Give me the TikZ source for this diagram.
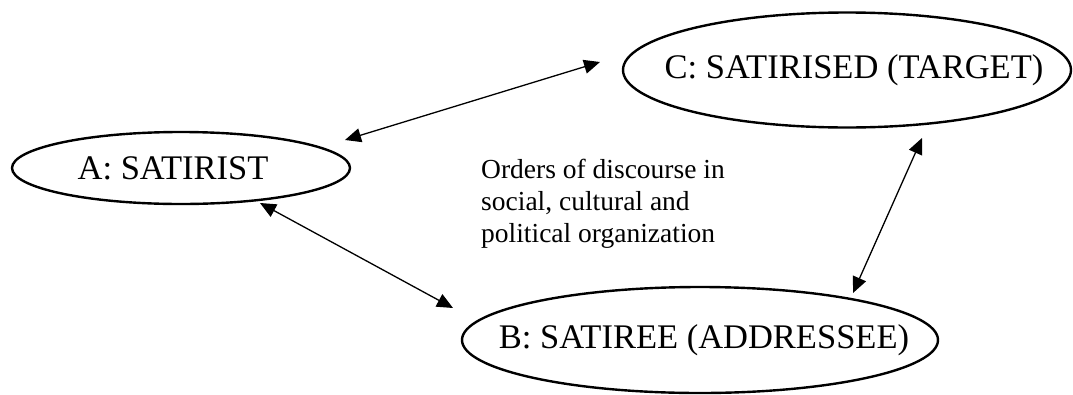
\documentclass[tikz,border=0pt]{standalone}
\usepackage{fontspec}
\setmainfont{Liberation Serif}
\usetikzlibrary{shapes.geometric,arrows.meta,calc}
\tikzset{
  party/.style={ellipse, draw, line width=2.4pt, inner sep=0pt},
  every label/.style={inner sep=0pt, font=\fontsize{34.5}{40}\selectfont},
  link/.style={{Triangle[length=16pt,width=14pt]}-{Triangle[length=16pt,width=14pt]}, line width=1.3pt},
  note/.style={align=left, inner sep=0pt, font=\fontsize{27.5}{32}\selectfont}
}
\begin{document}
\begin{tikzpicture}[x=1pt,y=-1pt]
\useasboundingbox (0,0) rectangle (1073,394);
\node[party, minimum width=338pt, minimum height=72pt, label={[xshift=-8pt]center:A: SATIRIST}] (A) at (181,168) {};
\node[party, minimum width=448pt, minimum height=115pt, label={[xshift=7pt]center:C: SATIRISED (TARGET)}] (C) at (847,70) {};
\node[party, minimum width=476pt, minimum height=106pt, label={[xshift=4pt]center:B: SATIREE (ADDRESSEE)}] (B) at (700,340) {};
\node[note, anchor=west] (T) at (481,204) {Orders of discourse in\\social, cultural and\\political organization};
\draw[link] ($(A)+(164,-28)$) -- ($(C)+(-247,-8)$);
\draw[link] ($(A)+(79,35)$) -- ($(B)+(-247,-32)$);
\draw[link] ($(C)+(75,68)$) -- ($(B)+(153,-47)$);
\end{tikzpicture}
\end{document}
